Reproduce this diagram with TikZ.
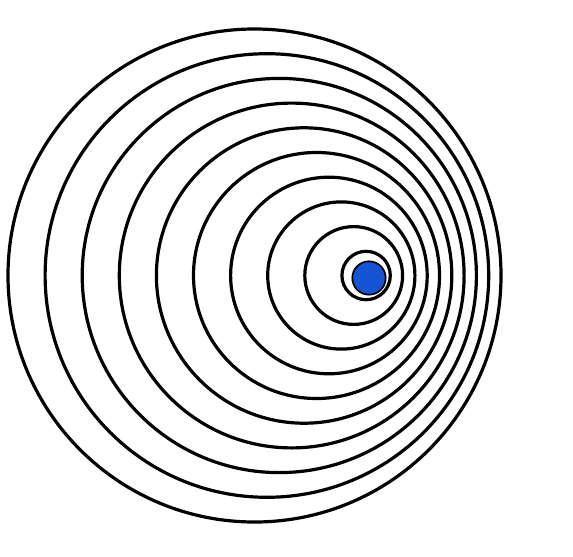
\documentclass[tikz,border=0pt]{standalone}
\usepackage{tikz}
\definecolor{sourceblue}{RGB}{22,84,214}
\begin{document}
\begin{tikzpicture}[x=0.75pt,y=-0.75pt]
\tikzstyle{wave}=[draw=black,line width=2.4pt]
\tikzstyle{source}=[draw=black,circle,fill=sourceblue,line width=1.3pt,inner sep=0pt,minimum size=25pt]
\useasboundingbox (0,0) rectangle (573,556);

\foreach \k in {1,...,10}
\draw[wave] ({378.5-12.4*\k},275.5) circle ({24.7*\k-0.5});

\node[source] (src) at (369,278) {};
\end{tikzpicture}
\end{document}
